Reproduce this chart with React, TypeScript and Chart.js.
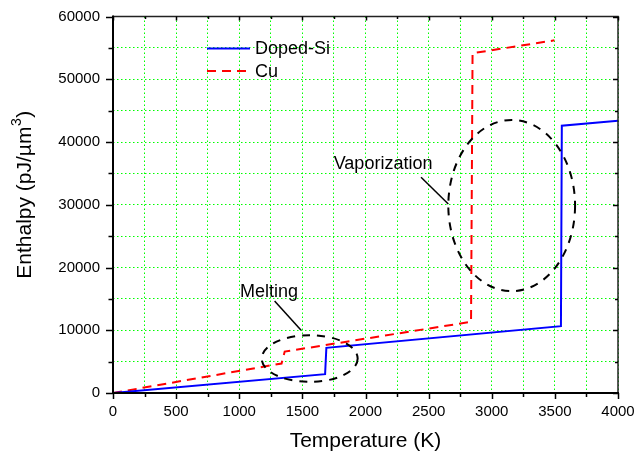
import React, { useEffect, useRef } from "react";
import { Chart, registerables } from "chart.js";

Chart.register(...registerables);

// ---- data ----
const siTemperature = [0, 1680, 1690, 3548, 3555, 4000];
const siEnthalpy = [0, 3000, 7200, 10650, 42600, 43400];

const cuTemperature = [0, 1335, 1360, 2836, 2848, 3496];
const cuEnthalpy = [0, 4700, 6600, 11350, 54150, 56200];

const seriesNames = ["Doped-Si", "Cu"];

// annotation ellipses: [centerT, centerH, radiusT, radiusH]
const melingEllipse = [1558, 5490, 380, 3720];
const vaporEllipse = [3158, 29870, 502, 13640];
// annotation labels: [text, T, H]
const annotationLabels: [string, number, number][] = [
  ["Melting", 1236, 16150],
  ["Vaporization", 2139, 36420],
];
// leader lines: [T1, H1, T2, H2]
const leaderLines = [
  [1280, 14660, 1490, 10000],
  [2440, 34370, 2656, 30110],
];

const yTitleMain = "Enthalpy (pJ/\u00b5m";
const yTitleSup = "3";
const yTitleEnd = ")";

const FONT = "'Liberation Sans', Arial, Helvetica, sans-serif";

const toXY = (xs: number[], ys: number[]) => xs.map((x, i) => ({ x, y: ys[i] }));

const overlayPlugin = {
  id: "overlay",
  afterDatasetsDraw(chart: any) {
    const { ctx, chartArea, scales } = chart;
    const xs = scales.x;
    const ys = scales.y;
    ctx.save();
    // ellipses
    ctx.strokeStyle = "#000";
    ctx.lineWidth = 2;
    ctx.setLineDash([8, 7]);
    for (const e of [melingEllipse, vaporEllipse]) {
      const cx = xs.getPixelForValue(e[0]);
      const cy = ys.getPixelForValue(e[1]);
      const rx = Math.abs(xs.getPixelForValue(e[0] + e[2]) - cx);
      const ry = Math.abs(ys.getPixelForValue(e[1] + e[3]) - cy);
      ctx.beginPath();
      ctx.ellipse(cx, cy, rx, ry, 0, 0, Math.PI * 2);
      ctx.stroke();
    }
    ctx.setLineDash([]);
    ctx.lineWidth = 1.5;
    for (const l of leaderLines) {
      ctx.beginPath();
      ctx.moveTo(xs.getPixelForValue(l[0]), ys.getPixelForValue(l[1]));
      ctx.lineTo(xs.getPixelForValue(l[2]), ys.getPixelForValue(l[3]));
      ctx.stroke();
    }
    ctx.fillStyle = "#000";
    ctx.font = `18px ${FONT}`;
    ctx.textAlign = "center";
    ctx.textBaseline = "middle";
    for (const [t, x, y] of annotationLabels) {
      ctx.fillText(t, xs.getPixelForValue(x), ys.getPixelForValue(y));
    }

    // legend
    const lx = chartArea.left + 94;
    const ly = chartArea.top + 32;
    chart.data.datasets.forEach((ds: any, i: number) => {
      const y = ly + i * 22.5;
      ctx.strokeStyle = ds.borderColor;
      ctx.lineWidth = 2;
      ctx.setLineDash(ds.borderDash || []);
      ctx.beginPath();
      ctx.moveTo(lx, y);
      ctx.lineTo(lx + 43, y);
      ctx.stroke();
      ctx.setLineDash([]);
      ctx.fillStyle = "#000";
      ctx.textAlign = "left";
      ctx.fillText(ds.label, lx + 48, y + 1);
    });

    // frame
    const { left, right, top, bottom } = chartArea;
    ctx.strokeStyle = "#222";
    ctx.lineWidth = 1.5;
    ctx.beginPath();
    ctx.moveTo(left, top);
    ctx.lineTo(right, top);
    ctx.lineTo(right, bottom);
    ctx.stroke();
    ctx.strokeStyle = "#000";
    ctx.lineWidth = 2;
    ctx.beginPath();
    ctx.moveTo(left, top - 1);
    ctx.lineTo(left, bottom);
    ctx.lineTo(right + 1, bottom);
    ctx.stroke();

    // ticks
    ctx.lineWidth = 1.5;
    for (let v = 0; v <= 4000; v += 250) {
      const px = Math.round(xs.getPixelForValue(v)) + 0.5;
      const major = v % 500 === 0;
      ctx.beginPath();
      ctx.moveTo(px, bottom);
      ctx.lineTo(px, bottom + (major ? 6 : 4));
      ctx.moveTo(px, top);
      ctx.lineTo(px, top + (major ? 4 : 2.5));
      ctx.stroke();
    }
    for (let v = 0; v <= 60000; v += 5000) {
      const py = Math.round(ys.getPixelForValue(v)) + 0.5;
      const major = v % 10000 === 0;
      ctx.beginPath();
      ctx.moveTo(left, py);
      ctx.lineTo(left - (major ? 7 : 4.5), py);
      ctx.moveTo(right, py);
      ctx.lineTo(right - (major ? 5 : 3), py);
      ctx.stroke();
    }

    // y-axis title with superscript
    ctx.save();
    ctx.translate(23, (top + bottom) / 2 - 10);
    ctx.rotate(-Math.PI / 2);
    ctx.fillStyle = "#000";
    ctx.textAlign = "left";
    ctx.textBaseline = "alphabetic";
    const mainFont = `21px ${FONT}`;
    const supFont = `14px ${FONT}`;
    ctx.font = mainFont;
    const w1 = ctx.measureText(yTitleMain).width;
    const w3 = ctx.measureText(yTitleEnd).width;
    ctx.font = supFont;
    const w2 = ctx.measureText(yTitleSup).width + 1;
    const total = w1 + w2 + w3;
    let x0 = -total / 2;
    const base = 7.5;
    ctx.font = mainFont;
    ctx.fillText(yTitleMain, x0, base);
    x0 += w1;
    ctx.font = supFont;
    ctx.fillText(yTitleSup, x0 + 0.5, base - 10);
    x0 += w2;
    ctx.font = mainFont;
    ctx.fillText(yTitleEnd, x0, base);
    ctx.restore();

    ctx.restore();
  },
};

export default function App() {
  const ref = useRef<HTMLCanvasElement | null>(null);

  useEffect(() => {
    if (!ref.current) return;
    const gridColor = (c: any) =>
      c.tick && c.tick.value === 0 ? "rgba(0,0,0,0)" : "#00ff00";
    const chart = new Chart(ref.current, {
      type: "line",
      data: {
        datasets: [
          {
            label: seriesNames[0],
            data: toXY(siTemperature, siEnthalpy),
            borderColor: "#0000ff",
            borderWidth: 2,
            pointRadius: 0,
            tension: 0,
            fill: false,
          },
          {
            label: seriesNames[1],
            data: toXY(cuTemperature, cuEnthalpy),
            borderColor: "#ff0000",
            borderDash: [9, 6],
            borderWidth: 2,
            pointRadius: 0,
            tension: 0,
            fill: false,
          },
        ],
      },
      options: {
        animation: false,
        responsive: false,
        events: [],
        layout: { padding: { top: 16.5, right: 17, left: 0, bottom: 0 } },
        plugins: {
          legend: { display: false },
          tooltip: { enabled: false },
        },
        scales: {
          x: {
            type: "linear",
            min: 0,
            max: 4000,
            afterFit: (s: any) => {
              s.height = 61;
              s.paddingLeft = 0;
              s.paddingRight = 0;
            },
            grid: { color: gridColor, lineWidth: 1, drawTicks: false },
            border: { display: false, dash: [1.5, 2.5] },
            ticks: {
              stepSize: 250,
              autoSkip: false,
              maxRotation: 0,
              padding: 10,
              color: "#000",
              font: { family: FONT, size: 15 },
              callback: (v: any) => (Number(v) % 500 === 0 ? String(v) : ""),
            },
            title: {
              display: true,
              text: "Temperature (K)",
              color: "#000",
              font: { family: FONT, size: 21 },
              padding: { top: 0, bottom: 0 },
            },
          },
          y: {
            type: "linear",
            min: 0,
            max: 60000,
            afterFit: (s: any) => {
              s.width = 113;
              s.paddingTop = 0;
              s.paddingBottom = 0;
            },
            grid: { color: gridColor, lineWidth: 1, drawTicks: false },
            border: { display: false, dash: [1.5, 2.5] },
            ticks: {
              stepSize: 5000,
              autoSkip: false,
              padding: 13,
              color: "#000",
              font: { family: FONT, size: 15 },
              callback: (v: any) => (Number(v) % 10000 === 0 ? String(v) : ""),
            },
            title: { display: false },
          },
        },
      },
      plugins: [overlayPlugin],
    } as any);
    return () => chart.destroy();
  }, []);

  return (
    <div style={{ position: "absolute", left: 0, top: 0, width: 635, height: 454, background: "#fff" }}>
      <canvas ref={ref} width={635} height={454} />
    </div>
  );
}
